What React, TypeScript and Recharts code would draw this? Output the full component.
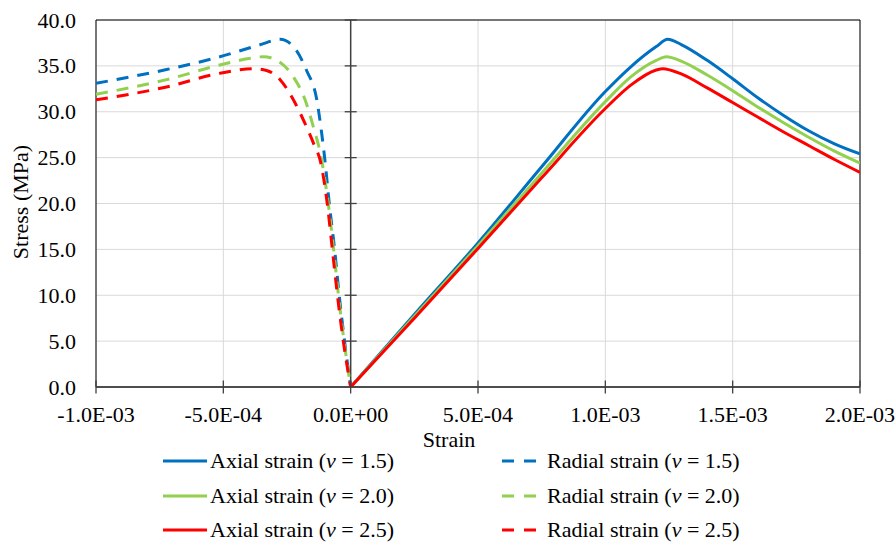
import React from 'react';
import {
  LineChart,
  Line,
  XAxis,
  YAxis,
  CartesianGrid,
  ReferenceLine,
  ReferenceArea,
} from 'recharts';

type Pt = { strain: number; stress: number };

const axial15: Pt[] = [
  { strain: 0, stress: 0 },
  { strain: 0.00025, stress: 7.9 },
  { strain: 0.0005, stress: 15.7 },
  { strain: 0.00075, stress: 24.0 },
  { strain: 0.001, stress: 32.2 },
  { strain: 0.0011, stress: 34.9 },
  { strain: 0.0012, stress: 37.1 },
  { strain: 0.001245, stress: 37.9 },
  { strain: 0.0013, stress: 37.3 },
  { strain: 0.0014, stress: 35.6 },
  { strain: 0.0015, stress: 33.6 },
  { strain: 0.0016, stress: 31.5 },
  { strain: 0.0017, stress: 29.6 },
  { strain: 0.0018, stress: 27.9 },
  { strain: 0.0019, stress: 26.5 },
  { strain: 0.002, stress: 25.4 },
];

const axial20: Pt[] = [
  { strain: 0, stress: 0 },
  { strain: 0.00025, stress: 7.7 },
  { strain: 0.0005, stress: 15.4 },
  { strain: 0.00075, stress: 23.3 },
  { strain: 0.001, stress: 31.1 },
  { strain: 0.0011, stress: 33.8 },
  { strain: 0.0012, stress: 35.6 },
  { strain: 0.00124, stress: 36.0 },
  { strain: 0.0013, stress: 35.5 },
  { strain: 0.0014, stress: 34.0 },
  { strain: 0.0015, stress: 32.3 },
  { strain: 0.0016, stress: 30.5 },
  { strain: 0.0017, stress: 28.8 },
  { strain: 0.0018, stress: 27.2 },
  { strain: 0.0019, stress: 25.7 },
  { strain: 0.002, stress: 24.4 },
];

const axial25: Pt[] = [
  { strain: 0, stress: 0 },
  { strain: 0.00025, stress: 7.5 },
  { strain: 0.0005, stress: 15.1 },
  { strain: 0.00075, stress: 22.8 },
  { strain: 0.001, stress: 30.35 },
  { strain: 0.0011, stress: 32.9 },
  { strain: 0.0012, stress: 34.55 },
  { strain: 0.001225, stress: 34.7 },
  { strain: 0.0013, stress: 34.1 },
  { strain: 0.0014, stress: 32.6 },
  { strain: 0.0015, stress: 31.0 },
  { strain: 0.0016, stress: 29.4 },
  { strain: 0.0017, stress: 27.8 },
  { strain: 0.0018, stress: 26.3 },
  { strain: 0.0019, stress: 24.8 },
  { strain: 0.002, stress: 23.4 },
];

const radial15: Pt[] = [
  { strain: -0.001, stress: 33.1 },
  { strain: -0.000723, stress: 34.6 },
  { strain: -0.000539, stress: 35.8 },
  { strain: -0.000356, stress: 37.3 },
  { strain: -0.000277, stress: 37.9 },
  { strain: -0.000225, stress: 37.1 },
  { strain: -0.000173, stress: 34.5 },
  { strain: -0.000133, stress: 31.3 },
  { strain: -0.000114, stress: 27.7 },
  { strain: -0.000101, stress: 24.7 },
  { strain: -0.000084, stress: 20 },
  { strain: -0.000063, stress: 15 },
  { strain: -0.000045, stress: 10 },
  { strain: -0.000024, stress: 5 },
  { strain: 0, stress: 0 },
];

const radial20: Pt[] = [
  { strain: -0.001, stress: 31.9 },
  { strain: -0.000723, stress: 33.5 },
  { strain: -0.000513, stress: 35.1 },
  { strain: -0.0004, stress: 35.8 },
  { strain: -0.000343, stress: 36.0 },
  { strain: -0.00029, stress: 35.6 },
  { strain: -0.000225, stress: 33.8 },
  { strain: -0.000179, stress: 31.3 },
  { strain: -0.000147, stress: 28.4 },
  { strain: -0.000118, stress: 25.3 },
  { strain: -0.000088, stress: 20 },
  { strain: -0.000067, stress: 15 },
  { strain: -0.000048, stress: 10 },
  { strain: -0.000026, stress: 5 },
  { strain: 0, stress: 0 },
];

const radial25: Pt[] = [
  { strain: -0.001, stress: 31.3 },
  { strain: -0.000723, stress: 32.7 },
  { strain: -0.000513, stress: 34.2 },
  { strain: -0.000382, stress: 34.7 },
  { strain: -0.00033, stress: 34.5 },
  { strain: -0.000277, stress: 33.5 },
  { strain: -0.000225, stress: 31.3 },
  { strain: -0.000179, stress: 28.7 },
  { strain: -0.000145, stress: 26.5 },
  { strain: -0.000118, stress: 24.5 },
  { strain: -0.000092, stress: 20 },
  { strain: -0.000072, stress: 15 },
  { strain: -0.000052, stress: 10 },
  { strain: -0.000029, stress: 5 },
  { strain: 0, stress: 0 },
];

const xTicks = [-0.001, -0.0005, 0, 0.0005, 0.001, 0.0015, 0.002];
const yTicks = [0, 5, 10, 15, 20, 25, 30, 35, 40];
const seriesNames = ['Axial strain', 'Radial strain'];
const nuValues = ['1.5', '2.0', '2.5'];
const colors = ['#0070C0', '#92D050', '#FF0000'];

const FONT = "'Liberation Serif', 'Times New Roman', 'DejaVu Serif', serif";
const FS = 22;
const DASH = '12 9';
const txtStyle: React.CSSProperties = { fontFamily: FONT, fontSize: FS };

const fmtStrain = (v: number) => {
  if (Math.abs(v) < 1e-12) return '0.0E+00';
  const [m, e] = v.toExponential(1).split('e');
  const n = parseInt(e, 10);
  return `${m}E${n < 0 ? '-' : '+'}${String(Math.abs(n)).padStart(2, '0')}`;
};

const XTick = (props: any) => {
  const { x, y, payload } = props;
  return (
    <g>
      <line x1={x} x2={x} y1={y - 6.5} y2={y + 6.5} stroke="#404040" strokeWidth={1.3} />
      <text x={x} y={y + 35} textAnchor="middle" style={txtStyle} fill="#000">
        {fmtStrain(payload.value)}
      </text>
    </g>
  );
};

const YTick = (props: any) => {
  const { x, y, payload } = props;
  return (
    <text x={x} y={y + 7.5} textAnchor="end" style={txtStyle} fill="#000">
      {Number(payload.value).toFixed(1)}
    </text>
  );
};

const TICK_HALF = 0.0000236;

export default function App() {
  const legendRowsY = [461, 496, 530];
  return (
    <div style={{ position: 'absolute', left: 0, top: 0, width: 896, height: 542, background: '#fff' }}>
      <LineChart
        width={896}
        height={542}
        margin={{ top: 20, right: 36, bottom: 0, left: 0 }}
      >
        <CartesianGrid stroke="#D9D9D9" strokeWidth={1} />
        <XAxis
          type="number"
          dataKey="strain"
          domain={[-0.001, 0.002]}
          ticks={xTicks}
          allowDataOverflow
          height={155}
          tickSize={0}
          tickMargin={0}
          tickLine={false}
          axisLine={{ stroke: '#404040', strokeWidth: 1.5 }}
          tick={<XTick />}
          interval={0}
        />
        <YAxis
          type="number"
          dataKey="stress"
          domain={[0, 40]}
          ticks={yTicks}
          allowDataOverflow
          width={96}
          tickSize={0}
          tickMargin={20}
          tickLine={false}
          axisLine={false}
          tick={<YTick />}
          interval={0}
        />
        <ReferenceArea
          x1={-0.001}
          x2={0.002}
          y1={0}
          y2={40}
          fill="none"
          stroke="#000"
          strokeWidth={1}
          ifOverflow="visible"
        />
        <ReferenceLine x={0} stroke="#404040" strokeWidth={1.5} ifOverflow="visible" />
        {yTicks.slice(1).map((t) => (
          <ReferenceLine
            key={`yt${t}`}
            segment={[
              { x: -TICK_HALF, y: t },
              { x: TICK_HALF, y: t },
            ]}
            stroke="#404040"
            strokeWidth={1.3}
            ifOverflow="visible"
          />
        ))}
        <Line data={axial15} dataKey="stress" type="monotone" stroke={colors[0]} strokeWidth={3} dot={false} isAnimationActive={false} name="Axial strain (ν = 1.5)" />
        <Line data={radial15} dataKey="stress" type="monotone" stroke={colors[0]} strokeWidth={3} strokeDasharray={DASH} dot={false} isAnimationActive={false} name="Radial strain (ν = 1.5)" />
        <Line data={axial20} dataKey="stress" type="monotone" stroke={colors[1]} strokeWidth={3} dot={false} isAnimationActive={false} name="Axial strain (ν = 2.0)" />
        <Line data={radial20} dataKey="stress" type="monotone" stroke={colors[1]} strokeWidth={3} strokeDasharray={DASH} dot={false} isAnimationActive={false} name="Radial strain (ν = 2.0)" />
        <Line data={axial25} dataKey="stress" type="monotone" stroke={colors[2]} strokeWidth={3} dot={false} isAnimationActive={false} name="Axial strain (ν = 2.5)" />
        <Line data={radial25} dataKey="stress" type="monotone" stroke={colors[2]} strokeWidth={3} strokeDasharray={DASH} dot={false} isAnimationActive={false} name="Radial strain (ν = 2.5)" />
      </LineChart>
      <svg
        width={896}
        height={542}
        style={{ position: 'absolute', left: 0, top: 0, pointerEvents: 'none' }}
      >
        <text x={449} y={447} textAnchor="middle" style={txtStyle} fill="#000">
          Strain
        </text>
        <text
          x={0}
          y={0}
          transform="translate(28,202) rotate(-90)"
          textAnchor="middle"
          style={txtStyle}
          fill="#000"
        >
          Stress (MPa)
        </text>
        {nuValues.map((nu, i) => {
          const y = legendRowsY[i];
          return (
            <g key={nu}>
              <line x1={163} x2={207} y1={y} y2={y} stroke={colors[i]} strokeWidth={3} />
              <text x={210} y={y + 7} style={txtStyle} fill="#000">
                {seriesNames[0]} (<tspan fontStyle="italic">ν</tspan> = {nu})
              </text>
              <line x1={502} x2={536} y1={y} y2={y} stroke={colors[i]} strokeWidth={3} strokeDasharray="12 10" />
              <text x={547} y={y + 7} style={txtStyle} fill="#000">
                {seriesNames[1]} (<tspan fontStyle="italic">ν</tspan> = {nu})
              </text>
            </g>
          );
        })}
      </svg>
    </div>
  );
}
